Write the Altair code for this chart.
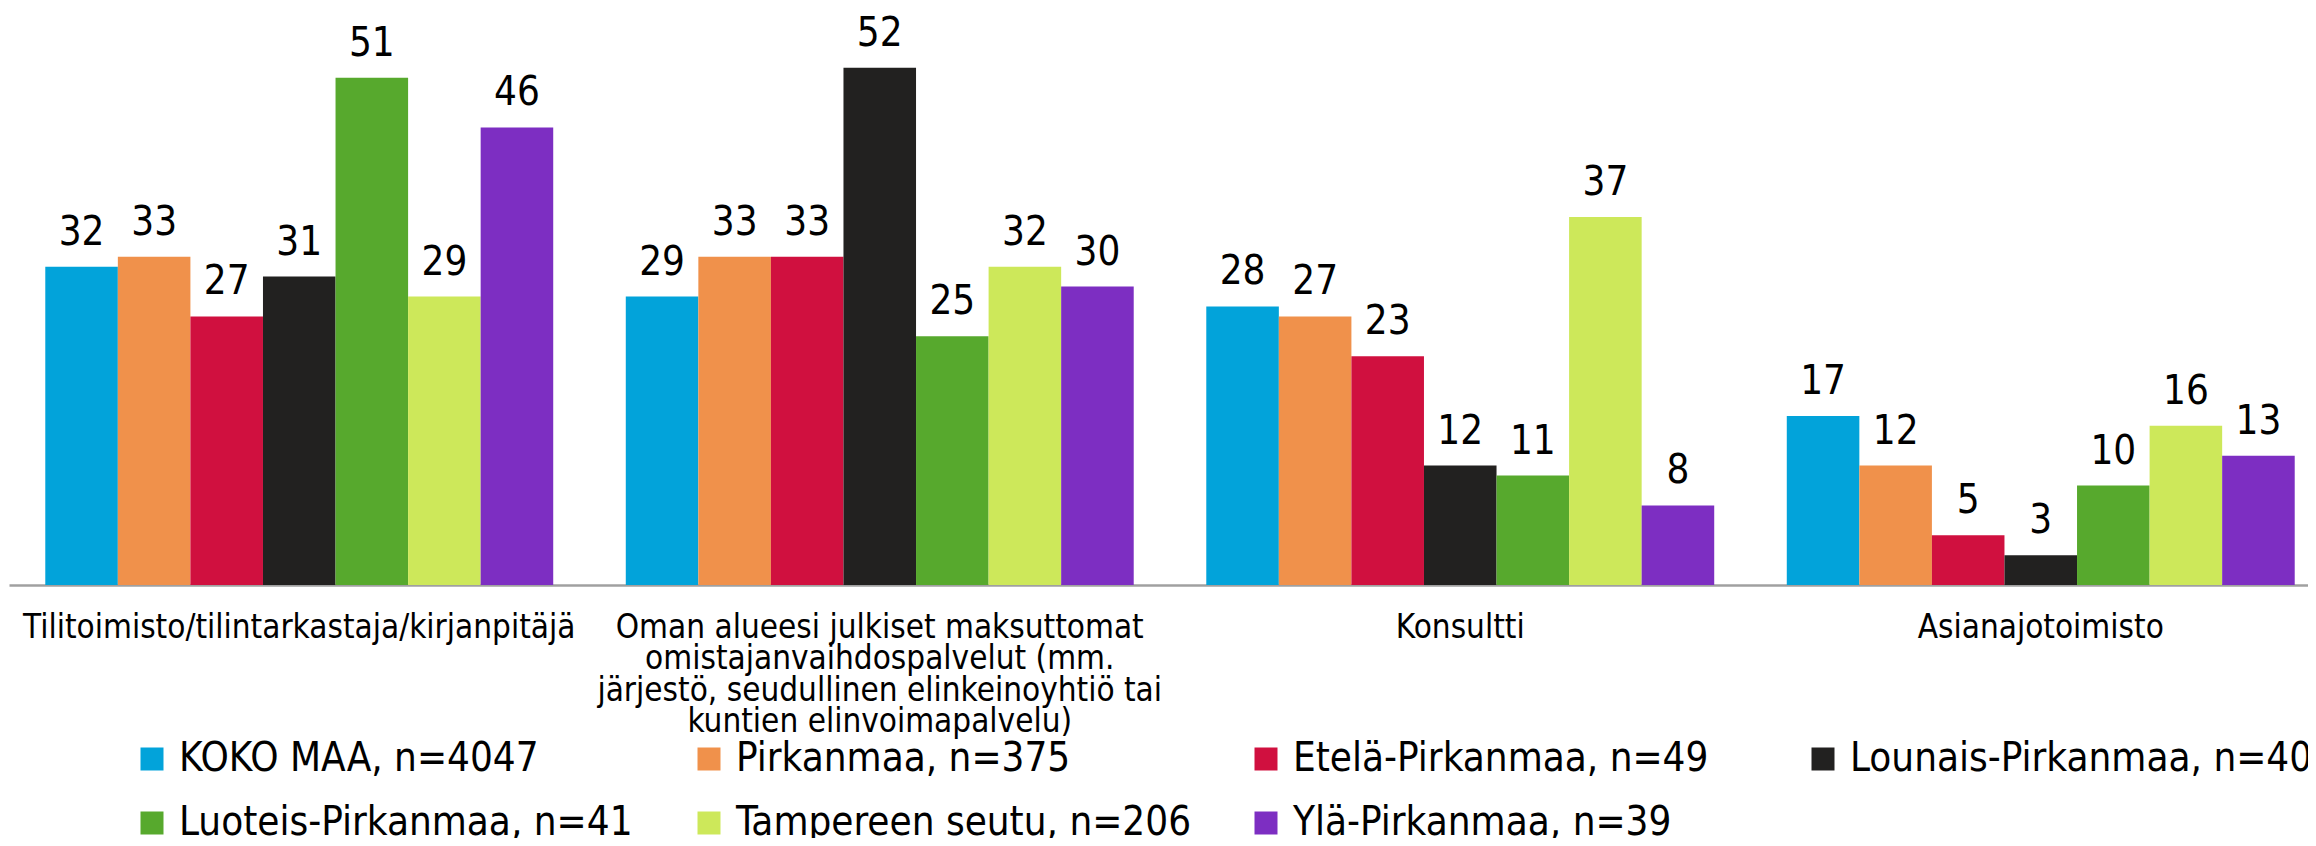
import altair as alt
import pandas as pd

categories = [
    "Tilitoimisto/tilintarkastaja/kirjanpitäjä",
    "Oman alueesi julkiset maksuttomat|omistajanvaihdospalvelut (mm.|järjestö, seudullinen elinkeinoyhtiö tai|kuntien elinvoimapalvelu)",
    "Konsultti",
    "Asianajotoimisto",
]
series = [
    "KOKO MAA, n=4047",
    "Pirkanmaa, n=375",
    "Etelä-Pirkanmaa, n=49",
    "Lounais-Pirkanmaa, n=40",
    "Luoteis-Pirkanmaa, n=41",
    "Tampereen seutu, n=206",
    "Ylä-Pirkanmaa, n=39",
]
colors = ["#02A3DA", "#F0914B", "#D0103F", "#222120", "#57A92D", "#CDE85A", "#7D2EC2"]

koko_maa = [32, 29, 28, 17]
pirkanmaa = [33, 33, 27, 12]
etela = [27, 33, 23, 5]
lounais = [31, 52, 12, 3]
luoteis = [51, 25, 11, 10]
tampere = [29, 32, 37, 16]
yla = [46, 30, 8, 13]
all_values = [koko_maa, pirkanmaa, etela, lounais, luoteis, tampere, yla]

rows = []
for s, vals in zip(series, all_values):
    for c, v in zip(categories, vals):
        rows.append({"cat": c, "series": s, "value": v})
df = pd.DataFrame(rows)

FONT = "DejaVu Sans Condensed"

base = alt.Chart(df).encode(
    x=alt.X(
        "cat:N",
        sort=categories,
        title=None,
        scale=alt.Scale(paddingInner=0, paddingOuter=0, range=[0, 2322]),
        axis=alt.Axis(
            labelAngle=0,
            labelExpr="split(datum.label, '|')",
            labelFont=FONT,
            labelFontSize=33,
            labelColor="#000000",
            labelLimit=1000,
            labelOverlap=False,
            labelPadding=26,
            labelLineHeight=31.5,
            labelBaseline="top",
            ticks=False,
            domainColor="#A0A0A0",
            domainWidth=2.5,
            grid=False,
        ),
    ),
    xOffset=alt.XOffset(
        "series:N", sort=series, scale=alt.Scale(paddingInner=0, paddingOuter=0.5)
    ),
    y=alt.Y("value:Q", scale=alt.Scale(domain=[0, 58]), axis=None),
)

bars = base.mark_bar().encode(
    color=alt.Color(
        "series:N",
        sort=series,
        scale=alt.Scale(domain=series, range=colors),
        legend=alt.Legend(
            title=None,
            orient="none",
            legendX=123,
            legendY=731,
            direction="horizontal",
            columns=4,
            gridAlign="all",
            columnPadding=47,
            rowPadding=24,
            labelFont=FONT,
            labelFontSize=40,
            labelColor="#000000",
            labelLimit=1000,
            labelOffset=7,
            symbolType="square",
            symbolSize=529,
            symbolStrokeWidth=0,
            symbolOpacity=1,
            padding=0,
        ),
    )
)

text = base.mark_text(
    baseline="alphabetic", dy=-22, font=FONT, fontSize=40, color="#000000"
).encode(text="value:Q")

chart = (
    alt.layer(bars, text)
    .properties(
        width=2299,
        height=577,
        padding={"left": 1, "top": 0, "right": 0, "bottom": 253},
        autosize=alt.AutoSizeParams(type="none"),
    )
    .configure_view(stroke=None)
)

chart.save("out.html", embed_options={"renderer": "svg", "actions": False})
